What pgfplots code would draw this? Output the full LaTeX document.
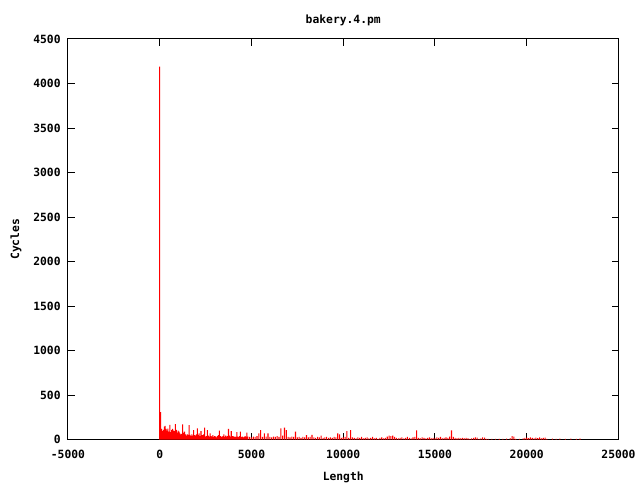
\documentclass[border=0pt]{standalone}
\usepackage{pgfplots}
\pgfplotsset{compat=1.18}
\usepackage{fontspec}
\setmainfont{DejaVu Sans Mono}
\begin{document}
\begin{tikzpicture}
\begin{axis}[
    scale only axis,
    width=413.25pt, height=300.75pt,
    xmin=-5000, xmax=25000, ymin=0, ymax=4500,
    xtick={-5000,0,5000,10000,15000,20000,25000},
    ytick={0,500,1000,1500,2000,2500,3000,3500,4000,4500},
    scaled ticks=false,
    /pgf/number format/assume math mode=true,
    /pgf/number format/set thousands separator={},
    tick align=inside, major tick length=5pt,
    axis line style={line width=0.75pt}, every tick/.style={line width=0.75pt, black},
    ticklabel style={font=\bfseries\fontsize{8.5}{10}\selectfont},
    xticklabel style={yshift=-4.5pt},
    yticklabel style={xshift=-2pt},
    label style={font=\bfseries\fontsize{8.5}{10}\selectfont},
    title style={font=\bfseries\fontsize{8.5}{10}\selectfont, yshift=0pt},
    title={bakery.4.pm},
    xlabel={Length}, ylabel={Cycles},
    xlabel style={yshift=-3pt},
    ylabel style={yshift=2pt},
]
\addplot[ybar, bar width=0.8pt, bar shift=0pt, fill=red, draw=none, mark=none] coordinates {
(0,4190)(50,310)(100,120)(150,95)(200,110)(250,145)(300,155)(350,120)(400,100)(450,125)
(500,90)(550,165)(600,85)(650,110)(700,120)(750,100)(800,95)(850,175)(900,110)(950,80)
(1000,100)(1050,90)(1100,70)(1150,60)(1200,65)(1250,172)(1300,75)(1350,90)(1400,60)(1450,45)
(1500,60)(1550,55)(1600,164)(1650,55)(1700,40)(1750,60)(1800,45)(1850,108)(1900,50)(1950,45)
(2000,60)(2050,127)(2100,55)(2150,70)(2200,40)(2250,95)(2300,50)(2350,50)(2400,60)(2450,134)
(2500,35)(2550,40)(2600,108)(2650,45)(2700,35)(2750,70)(2800,40)(2850,35)(2900,50)(2950,30)
(3000,40)(3050,35)(3100,25)(3150,40)(3200,50)(3250,100)(3300,40)(3350,35)(3400,30)(3450,40)
(3500,60)(3550,30)(3600,45)(3650,35)(3700,40)(3750,120)(3800,45)(3850,35)(3900,95)(3950,40)
(4000,40)(4050,30)(4100,35)(4150,30)(4200,85)(4250,35)(4300,30)(4350,40)(4400,90)(4450,30)
(4500,35)(4550,25)(4600,30)(4650,40)(4700,30)(4750,80)(4800,35)
(4900,30)(5000,25)(5100,35)(5200,30)(5300,40)(5400,70)(5500,108)(5600,30)(5700,70)(5800,35)
(5900,70)(6000,30)(6100,25)(6200,35)(6300,30)(6400,40)(6500,30)(6600,127)(6700,45)(6800,134)
(6900,108)(7000,30)(7100,25)(7200,35)(7300,30)(7400,90)(7500,25)(7600,30)(7700,20)(7800,30)
(7900,25)(8000,52)(8100,25)(8200,30)(8300,55)(8400,25)(8500,20)(8600,30)(8700,25)(8800,45)
(8900,20)(9000,25)(9100,30)(9200,20)(9300,25)(9400,20)(9500,30)(9600,25)(9700,70)(9800,60)
(9900,20)(10000,25)(10100,30)(10200,97)(10300,20)(10400,108)(10500,25)(10600,20)(10700,15)(10800,25)
(10900,20)(11000,30)(11100,15)(11200,20)(11300,25)(11400,15)(11500,20)(11600,30)(11700,15)(11800,20)
(11900,10)(12000,20)(12100,25)(12200,15)(12300,20)(12400,35)(12500,45)(12600,40)(12700,45)(12800,30)
(12900,20)(13000,15)(13100,20)(13200,25)(13300,15)(13400,20)(13500,30)(13600,20)(13700,15)(13800,25)
(13900,30)(14000,105)(14100,20)(14200,15)(14300,25)(14400,20)(14500,15)(14600,20)(14700,25)(14800,15)
(14900,20)(15000,15)(15100,25)(15200,20)(15300,30)(15400,15)(15500,20)(15600,25)(15700,20)(15800,35)
(15900,105)(16000,30)(16100,20)(16200,15)(16300,20)(16400,15)(16500,20)(16600,15)(16700,20)(16800,15)
(16900,10)(17000,15)(17100,20)(17200,25)(17300,22)(17400,10)(17500,15)(17600,25)(17700,22)(17800,10)
(17900,8)(18100,10)(18300,8)(18500,10)(18700,8)(18900,12)(19100,15)(19200,40)(19300,35)(19400,10)
(19600,8)(19800,15)(19900,20)(20000,22)(20100,18)(20200,25)(20300,20)(20400,15)(20500,22)(20600,18)
(20700,25)(20800,15)(20900,20)(21000,22)(21100,10)(21400,12)(21600,10)(21800,12)(22100,10)(22400,12)
(22700,10)(22900,12)
};
\end{axis}
\path ([xshift=-51pt,yshift=-30pt]current axis.south west) rectangle ([xshift=15.75pt,yshift=29.25pt]current axis.north east);
\end{tikzpicture}
\end{document}
